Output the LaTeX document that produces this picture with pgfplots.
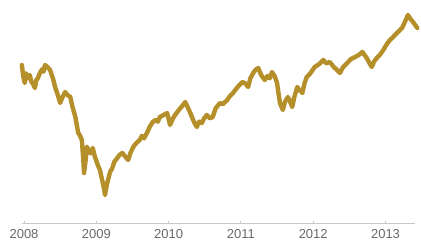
\documentclass[border=0pt]{standalone}
\usepackage{fontspec}
\setmainfont{Liberation Sans}
\usepackage{pgfplots}
\pgfplotsset{compat=1.18}
\definecolor{gold}{RGB}{181,143,42}
\definecolor{axisgray}{RGB}{200,200,200}
\definecolor{labelgray}{RGB}{105,105,105}
\begin{document}
\begin{tikzpicture}
\begin{axis}[
  scale only axis,
  width=393pt, height=213pt,
  xmin=2007.972, xmax=2013.408,
  ymin=462, ymax=1740,
  clip=false,
  axis x line*=bottom,
  axis y line=none,
  x axis line style={axisgray, line width=1pt, -},
  xtick={2008,2009,2010,2011,2012,2013},
  xticklabels={2008,2009,2010,2011,2012,2013},
  x tick style={axisgray, line width=1pt},
  major tick length=2.5pt,
  tick align=inside,
  xticklabel style={font=\fontsize{13}{15}\selectfont, text=labelgray, yshift=-3pt},
  /pgf/number format/assume math mode=true,
]
\addplot[gold, line width=4.4pt, line join=round, line cap=round] coordinates {
(2007.97,1410) (2007.99,1340) (2008.01,1302) (2008.03,1360) (2008.05,1330) (2008.08,1350)
(2008.10,1310) (2008.12,1300) (2008.15,1272) (2008.17,1320) (2008.19,1330) (2008.22,1362)
(2008.25,1385) (2008.27,1370) (2008.29,1410) (2008.32,1400) (2008.36,1380) (2008.40,1330)
(2008.43,1278) (2008.46,1240) (2008.50,1182) (2008.53,1215) (2008.57,1248) (2008.60,1230)
(2008.64,1218) (2008.67,1160) (2008.71,1098) (2008.73,1050) (2008.75,1002) (2008.77,990)
(2008.80,960) (2008.82,840) (2008.83,762) (2008.85,830) (2008.87,920) (2008.89,900)
(2008.92,880) (2008.95,912) (2008.98,860) (2009.02,810) (2009.05,780) (2009.07,740)
(2009.09,702) (2009.11,660) (2009.12,630) (2009.15,700) (2009.19,768) (2009.22,790)
(2009.25,830) (2009.29,852) (2009.32,870) (2009.36,882) (2009.40,860) (2009.44,840)
(2009.47,880) (2009.51,918) (2009.55,940) (2009.60,960) (2009.63,985) (2009.66,970)
(2009.70,1002) (2009.74,1040) (2009.78,1068) (2009.82,1080) (2009.85,1070) (2009.88,1098)
(2009.93,1110) (2009.98,1122) (2010.02,1050) (2010.06,1090) (2010.09,1110) (2010.12,1128)
(2010.16,1150) (2010.20,1170) (2010.23,1188) (2010.26,1160) (2010.30,1122) (2010.33,1090)
(2010.36,1060) (2010.39,1038) (2010.42,1070) (2010.46,1062) (2010.49,1090) (2010.53,1110)
(2010.57,1090) (2010.61,1098) (2010.65,1150) (2010.71,1182) (2010.75,1175) (2010.81,1200)
(2010.85,1225) (2010.89,1242) (2010.94,1270) (2010.98,1290) (2011.02,1308) (2011.06,1300)
(2011.10,1278) (2011.13,1330) (2011.17,1362) (2011.20,1380) (2011.24,1392) (2011.28,1350)
(2011.33,1320) (2011.37,1345) (2011.40,1330) (2011.43,1368) (2011.47,1340) (2011.50,1302)
(2011.52,1240) (2011.54,1182) (2011.56,1160) (2011.58,1140) (2011.61,1190) (2011.65,1218)
(2011.68,1190) (2011.71,1158) (2011.74,1220) (2011.78,1278) (2011.81,1260) (2011.85,1242)
(2011.88,1300) (2011.91,1338) (2011.96,1360) (2012.02,1398) (2012.08,1415) (2012.14,1440)
(2012.18,1420) (2012.23,1428) (2012.28,1400) (2012.33,1380) (2012.37,1362) (2012.41,1395)
(2012.47,1422) (2012.52,1445) (2012.58,1458) (2012.63,1470) (2012.68,1488) (2012.71,1470)
(2012.74,1452) (2012.78,1420) (2012.81,1398) (2012.84,1430) (2012.88,1452) (2012.92,1470)
(2012.97,1500) (2013.01,1530) (2013.06,1560) (2013.10,1575) (2013.13,1590) (2013.16,1602)
(2013.20,1620) (2013.23,1632) (2013.27,1670) (2013.31,1710) (2013.34,1690) (2013.38,1668)
(2013.41,1650) (2013.44,1632)
};
\end{axis}
\path[use as bounding box] (-22pt,-21pt) rectangle (399pt,223pt);
\end{tikzpicture}
\end{document}
